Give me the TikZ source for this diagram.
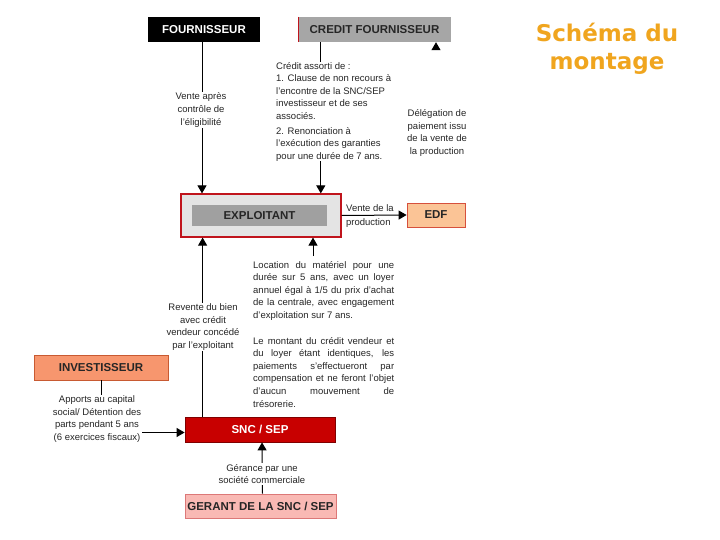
\documentclass[tikz,border=0pt]{standalone}
\usepackage{fontspec}
\setmainfont{Liberation Sans}
\newfontfamily\titlefont{DejaVu Sans}
\usetikzlibrary{arrows.meta,calc}
\definecolor{ttl}{RGB}{240,165,30}
\definecolor{credgray}{RGB}{166,166,166}
\definecolor{explfill}{RGB}{228,228,228}
\definecolor{explborder}{RGB}{192,20,28}
\definecolor{explinner}{RGB}{160,160,160}
\definecolor{edffill}{RGB}{251,196,150}
\definecolor{edfborder}{RGB}{214,80,60}
\definecolor{invfill}{RGB}{247,150,110}
\definecolor{invborder}{RGB}{200,90,50}
\definecolor{sncfill}{RGB}{200,0,0}
\definecolor{sncborder}{RGB}{128,0,0}
\definecolor{gerfill}{RGB}{249,185,180}
\definecolor{gerborder}{RGB}{220,120,120}
\begin{document}
\begin{tikzpicture}[x=1pt,y=-1pt,
  box/.style={minimum height=25pt, inner sep=0pt, font=\fontsize{11.5}{13}\selectfont\bfseries},
  lbl/.style={font=\fontsize{9.5}{12.6}\selectfont, align=center, inner sep=1pt, text=black!85},
  arr/.style={line width=1pt, -{Triangle[width=9pt,length=8pt]}},
  ln/.style={line width=1pt}]
\useasboundingbox[fill=white] (0,0) rectangle (720,540);

% title
\node[font=\titlefont\bfseries\fontsize{23}{28}\selectfont, text=ttl, align=center] (title) at (607,49) {Schéma du\\montage};

% boxes
\node[box, fill=black, text=white, minimum width=112pt] (fourn) at (204,29.5) {FOURNISSEUR};
\node[box, fill=credgray, text=black!85, minimum width=153pt] (cf) at (374.5,29.5) {CREDIT FOURNISSEUR};
\draw[explborder, line width=0.6pt] (cf.north west) -- (cf.south west);
\node[draw=explborder, line width=1.2pt, fill=explfill, minimum width=160pt, minimum height=43pt, inner sep=0pt] (expl) at (261,215.5) {};
\node[box, fill=explinner, text=black!85, minimum width=135pt, minimum height=21pt] (explin) at (259.5,215.5) {EXPLOITANT};
\node[box, draw=edfborder, line width=0.8pt, fill=edffill, text=black!85, minimum width=58pt, minimum height=24pt] (edf) at (436,215) {EDF};
\node[box, draw=invborder, line width=0.8pt, fill=invfill, text=black!85, minimum width=134pt] (inv) at (101,367.5) {INVESTISSEUR};
\node[box, draw=sncborder, line width=0.8pt, fill=sncfill, text=white, minimum width=150pt] (snc) at (260,429.5) {SNC / SEP};
\node[box, draw=gerborder, line width=0.8pt, fill=gerfill, text=black!85, minimum width=151pt, minimum height=24pt] (ger) at (260.5,506) {GERANT DE LA SNC / SEP};

% text block (location)
\node[lbl, align=justify, text width=141pt, anchor=north west, fill=white, inner sep=0pt] (loc) at (253,261)
 {\tolerance=9999\emergencystretch=20pt\hyphenpenalty=10000
 Location du matériel pour une\linebreak durée sur 5 ans, avec un loyer\linebreak annuel égal à 1/5 du prix d'achat\linebreak de la centrale, avec engagement\linebreak d'exploitation sur 7 ans.\par\vspace{13pt}
 Le montant du crédit vendeur et\linebreak du loyer étant identiques, les\linebreak paiements s'effectueront par\linebreak compensation et ne feront l'objet\linebreak d'aucun mouvement de\linebreak trésorerie.};

% connectors
\coordinate (fx) at ([xshift=-2pt]fourn.south);
\draw[arr] (fx) -- (fx |- expl.north);
\coordinate (cx) at ([xshift=23pt]cf.south west);
\draw[arr] (cx) -- (cx |- expl.north);
\draw[arr] (expl.east) -- (edf.west);
\draw[line width=1pt, white, -{Triangle[width=9pt,length=8pt,color=black]}] (edf.north) -- (cf.south -| edf.north);
\coordinate (sx) at ([xshift=18pt]snc.north west);
\draw[arr] (sx) -- (sx |- expl.south);
\coordinate (lx) at ([xshift=60pt,yshift=5pt]loc.north west);
\draw[arr] (lx) -- (lx |- expl.south);
\draw[arr] (inv.south) |- ([yshift=-3pt]snc.west);
\draw[arr] ([xshift=2pt]ger.north) -- ([xshift=2pt]snc.south);

% labels
\node[lbl, fill=white] (l1) at (201,110) {Vente après\\contrôle de\\l'éligibilité};
\node[lbl, align=left, anchor=north west, fill=white, inner sep=0pt] (cred) at (276,62)
 {Crédit assorti de :\\1. Clause de non recours à\\l'encontre de la SNC/SEP\\investisseur et de ses\\associés.\\[2pt]2. Renonciation à\\l'exécution des garanties\\pour une durée de 7 ans.};
\node[lbl] (l3) at (437,133) {Délégation de\\paiement issu\\de la vente de\\la production};
\node[lbl, anchor=west] (l4a) at (345,208) {Vente de la};
\node[lbl, anchor=west] (l4b) at (345,223) {production};
\node[lbl, fill=white] (l5) at (203,327) {Revente du bien\\avec crédit\\vendeur concédé\\par l'exploitant};
\node[lbl, fill=white] (l6) at (97,419) {Apports au capital\\social/ Détention des\\parts pendant 5 ans\\(6 exercices fiscaux)};
\node[lbl, fill=white] (l7) at (262,474) {Gérance par une\\société commerciale};
\end{tikzpicture}
\end{document}
